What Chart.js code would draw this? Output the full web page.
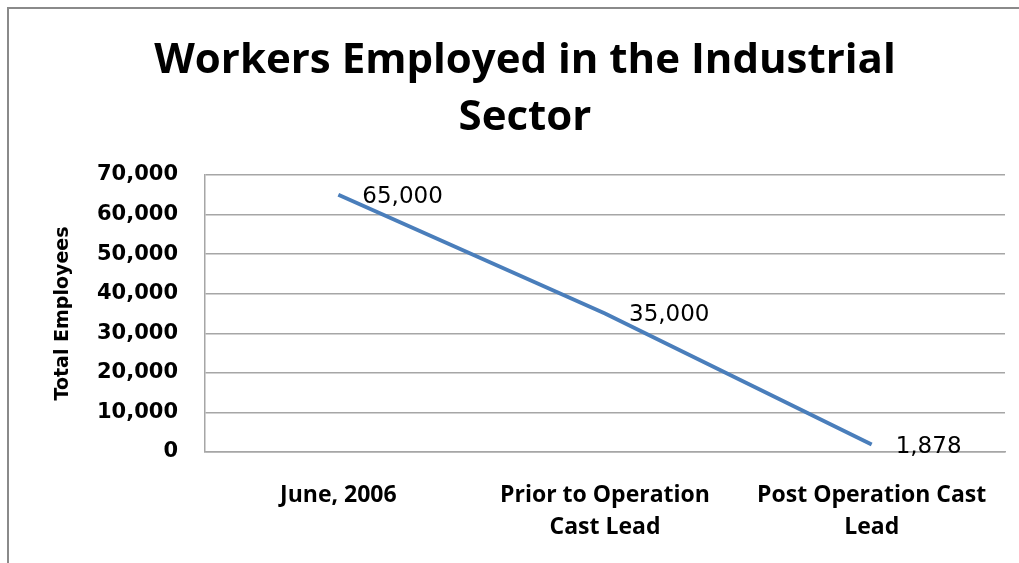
<!DOCTYPE html>
<html>
<head>
<meta charset="utf-8">
<script src="https://cdn.jsdelivr.net/npm/chart.js@4"></script>
<style>
  html, body { margin: 0; padding: 0; background: #fff; }
  #frame {
    position: absolute; left: 7px; top: 7px; width: 1100px; height: 640px;
    border-left: 2px solid #8a8a8a; border-top: 2px solid #8a8a8a;
  }
  #wrap { position: absolute; left: 0; top: 0; width: 1019px; height: 563px; }
</style>
</head>
<body>
<div id="frame"></div>
<div id="wrap"><canvas id="chart"></canvas></div>
<script>
// Categories along the x axis (multi-line labels)
const periods = [
  "June, 2006",
  ["Prior to Operation", "Cast Lead"],
  ["Post Operation Cast", "Lead"],
];
// Number of workers for each period
const workers = [65000, 35000, 1878];
// Y axis range
const yMin = 0;
const yMax = 70000;
const yStep = 10000;

const lineBlue = "rgb(74,126,187)";
const gridGray = "#a6a6a6";

// Draw the value next to each point, like Excel's "right" data labels
const valueLabels = {
  id: "valueLabels",
  afterDatasetsDraw(chart) {
    const { ctx } = chart;
    const meta = chart.getDatasetMeta(0);
    ctx.save();
    ctx.font = "23px 'DejaVu Sans'";
    ctx.fillStyle = "#000";
    ctx.textAlign = "left";
    ctx.textBaseline = "middle";
    meta.data.forEach((pt, i) => {
      const v = chart.data.datasets[0].data[i];
      ctx.fillText(v.toLocaleString("en-US"), pt.x + 24, pt.y + 2);
    });
    ctx.restore();
  },
};

const config = {
  type: "line",
  data: {
    labels: periods,
    datasets: [
      {
        data: workers,
        borderColor: lineBlue,
        borderWidth: 4,
        pointRadius: 0,
        tension: 0,
        fill: false,
      },
    ],
  },
  options: {
    responsive: true,
    maintainAspectRatio: false,
    animation: false,
    layout: { padding: { left: 45, right: 14, top: 0, bottom: 0 } },
    plugins: {
      legend: { display: false },
      tooltip: { enabled: false },
      title: {
        display: true,
        text: ["Workers Employed in the Industrial", "Sector"],
        color: "#000",
        font: { family: "Open Sans", size: 42, weight: "bold", lineHeight: 1.345 },
        padding: { top: 33, bottom: 29 },
      },
    },
    scales: {
      x: {
        offset: true,
        grid: { display: false, drawTicks: false },
        border: { display: true, color: gridGray, width: 1.5 },
        ticks: {
          color: "#000",
          padding: 27,
          maxRotation: 0,
          autoSkip: false,
          font: { family: "Open Sans", size: 23, weight: "bold", lineHeight: 1.4 },
        },
        afterFit(scale) {
          scale.height = 111;
        },
      },
      y: {
        min: yMin,
        max: yMax,
        grid: { color: gridGray, lineWidth: 1.5, drawTicks: false },
        border: { display: true, color: gridGray, width: 1.5 },
        ticks: {
          stepSize: yStep,
          color: "#000",
          padding: 27,
          font: { family: "DejaVu Sans", size: 21, weight: "bold" },
          callback: (v) => v.toLocaleString("en-US"),
        },
        title: {
          display: true,
          text: "Total Employees",
          color: "#000",
          padding: { top: 7, bottom: 0 },
          font: { family: "DejaVu Sans", size: 19, weight: "bold" },
        },
        afterFit(scale) {
          scale.width = 160;
        },
      },
    },
  },
  plugins: [valueLabels],
};

const ctx = document.getElementById("chart").getContext("2d");
const myChart = new Chart(ctx, config);
</script>
</body>
</html>
